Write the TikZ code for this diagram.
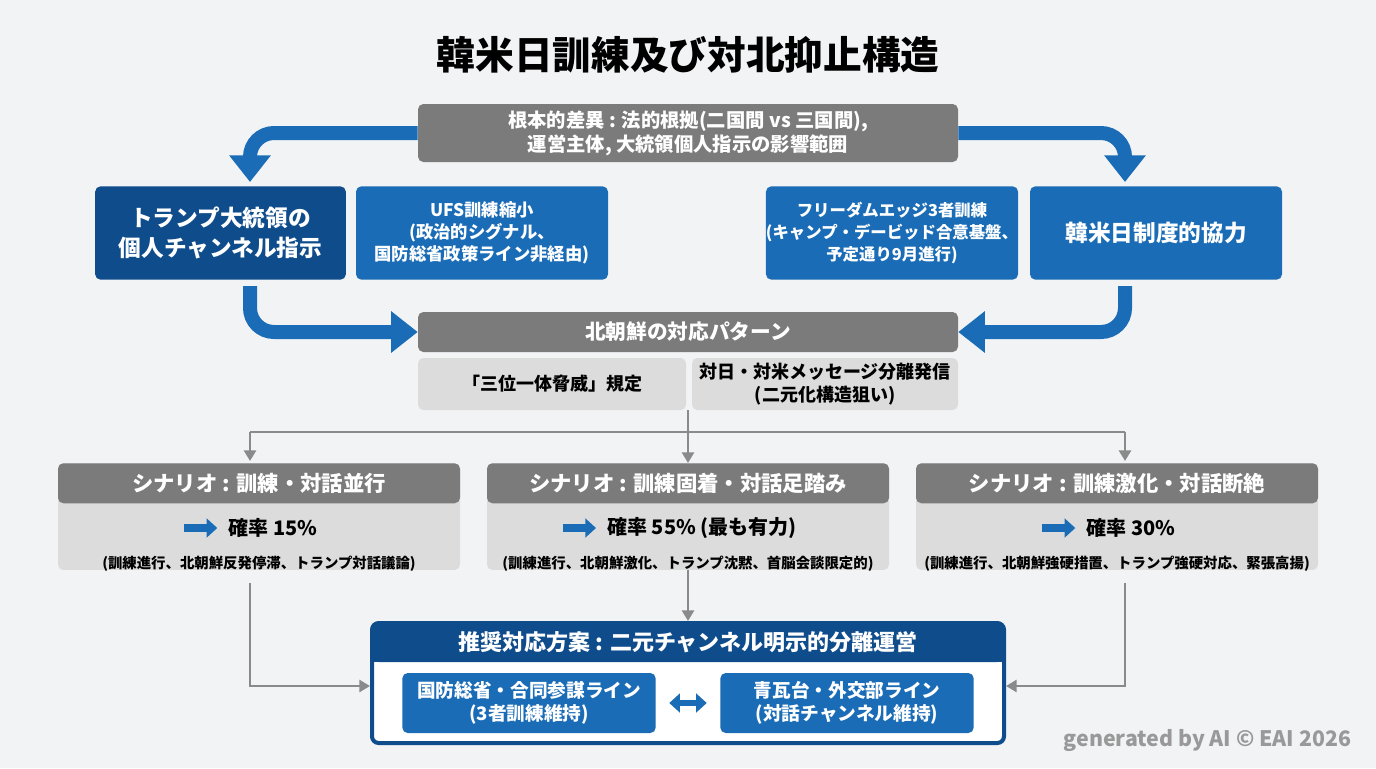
\documentclass[tikz,border=0pt]{standalone}
\usepackage{fontspec}
\setmainfont{Noto Sans CJK JP}
\usetikzlibrary{arrows.meta}
\definecolor{bg}{HTML}{F2F3F5}
\definecolor{gr}{HTML}{7B7B7B}
\definecolor{lg}{HTML}{DCDCDC}
\definecolor{db}{HTML}{0F4C8C}
\definecolor{mb}{HTML}{1A6CB6}
\definecolor{ln}{HTML}{8A8A8A}
\tikzset{
 box/.style={rounded corners=4pt, text=white, font=\bfseries\fontsize{14.5}{18}\selectfont, align=center, inner sep=0pt},
 big/.style={draw=mb, line width=10.5pt, rounded corners=18pt, -{Triangle[length=20pt,width=30pt]}},
 thin/.style={draw=ln, line width=2pt, -{Triangle[length=8pt,width=9pt]}},
}
\begin{document}
\begin{tikzpicture}[x=0.75pt,y=-0.75pt]
\fill[bg] (0,0) rectangle (1376,768);
\useasboundingbox (0,0) rectangle (1376,768);
\node[font=\bfseries\fontsize{29}{33}\selectfont] (title) at (688,55) {韓米日訓練及び対北抑止構造};
% top
\node[box, fill=gr, minimum width=405pt, minimum height=43.5pt] (top) at (688,133) {根本的差異 : 法的根拠(二国間 vs 三国間),\\運営主体, 大統領個人指示の影響範囲};
\node[box, fill=db, minimum width=188pt, minimum height=70pt, font=\bfseries\fontsize{17}{22}\selectfont] (trump) at (220.5,233) {トランプ大統領の\\個人チャンネル指示};
\node[box, fill=mb, minimum width=189pt, minimum height=70pt, font=\bfseries\fontsize{13}{16.5}\selectfont] (ufs) at (482,233) {UFS訓練縮小\\(政治的シグナル、\\国防総省政策ライン非経由)};
\node[box, fill=mb, minimum width=189pt, minimum height=70pt, font=\bfseries\fontsize{12.3}{16.5}\selectfont] (fe) at (892,233) {フリーダムエッジ3者訓練\\(キャンプ・デービッド合意基盤、\\予定通り9月進行)};
\node[box, fill=mb, minimum width=189pt, minimum height=70pt, font=\bfseries\fontsize{17}{22}\selectfont] (kuj) at (1156,233) {韓米日制度的協力};
% NK
\node[box, fill=gr, minimum width=405pt, minimum height=30pt, font=\bfseries\fontsize{15.5}{18}\selectfont] (nk) at (688,332) {北朝鮮の対応パターン};
\node[box, fill=lg, text=black, minimum width=201pt, minimum height=39pt, font=\bfseries\fontsize{13.5}{17}\selectfont] (nk1) at (552,384) {「三位一体脅威」規定};
\node[box, fill=lg, text=black, minimum width=199.5pt, minimum height=39pt, font=\bfseries\fontsize{13.5}{17}\selectfont] (nk2) at (825,384) {対日・対米メッセージ分離発信\\(二元化構造狙い)};
% big arrows
\draw[big] (top.west) -- (250,133) -- (250,182);
\draw[big] (top.east) -- (1125,133) -- (1125,182);
\coordinate (a1) at (250,286);
\coordinate (a2) at (1125,286);
\draw[big] (a1) -- (250,332) -- (nk.west);
\draw[big] (a2) -- (1125,332) -- (nk.east);
% scenarios
\foreach \n/\x/\t/\p/\s in {s1/259/シナリオ : 訓練・対話並行/確率 15\%/(訓練進行、北朝鮮反発停滞、トランプ対話議論),
 s2/688/シナリオ : 訓練固着・対話足踏み/確率 55\% (最も有力)/(訓練進行、北朝鮮激化、トランプ沈黙、首脳会談限定的),
 s3/1117/シナリオ : 訓練激化・対話断絶/確率 30\%/(訓練進行、北朝鮮強硬措置、トランプ強硬対応、緊張高揚)}{
 \node[box, fill=lg, minimum width=301.5pt, minimum height=80pt, anchor=north] (\n b) at (\x,463) {};
 \node[box, fill=gr, minimum width=301.5pt, minimum height=30pt, anchor=north, font=\bfseries\fontsize{16}{19}\selectfont] (\n) at (\x,463) {\t};
 \node[font=\bfseries\fontsize{15}{18}\selectfont] (\n p) at (\x+14,528) {\p};
 \draw[mb, line width=6pt, -{Triangle[length=8pt,width=14pt]}] ([xshift=-30pt]\n p.west) -- ([xshift=-5pt]\n p.west);
 \node[font=\bfseries\fontsize{10.8}{12}\selectfont] (\n s) at (\x,564) {\s};
}
% thin connectors
\coordinate (j) at (688,432);
\coordinate (jl) at (250,432);
\coordinate (jr) at (1125,432);
\draw[draw=ln, line width=2pt] (688,410) -- (j);
\draw[draw=ln, line width=2pt] (jl) -- (jr);
\draw[thin] (jl) -- (250,461);
\draw[thin] (jr) -- (1125,461);
\draw[thin] (j) -- (s2.north);
% recommendation
\draw[db, line width=3pt, fill=white, rounded corners=5pt] (372,623) rectangle (1004,743);
\fill[db, rounded corners=5pt] (372,623) rectangle (1004,662);
\fill[db] (372,650) rectangle (1004,662);
\node[text=white, font=\bfseries\fontsize{16.5}{19}\selectfont] (rec) at (688,642) {推奨対応方案 : 二元チャンネル明示的分離運営};
\node[box, fill=mb, minimum width=190pt, minimum height=45pt, font=\bfseries\fontsize{14}{17}\selectfont] (r1) at (529,703) {国防総省・合同参謀ライン\\(3者訓練維持)};
\node[box, fill=mb, minimum width=190pt, minimum height=45pt, font=\bfseries\fontsize{14}{17}\selectfont] (r2) at (847,703) {青瓦台・外交部ライン\\(対話チャンネル維持)};
\draw[mb, line width=5pt, {Triangle[length=8pt,width=14pt]}-{Triangle[length=8pt,width=14pt]}] ([xshift=-10pt]r2.west) -- ([xshift=10pt]r1.east);
\coordinate (recl) at (370,686);
\coordinate (recr) at (1006,686);
\draw[thin] (250,583) |- (recl);
\draw[thin] (1125,583) |- (recr);
\draw[thin] (s2b.south) -- (688,621);
\node[text=gray!80, font=\bfseries\fontsize{16}{18}\selectfont, anchor=east] (wm) at (1356,741) {generated by AI © EAI 2026};
\end{tikzpicture}
\end{document}
